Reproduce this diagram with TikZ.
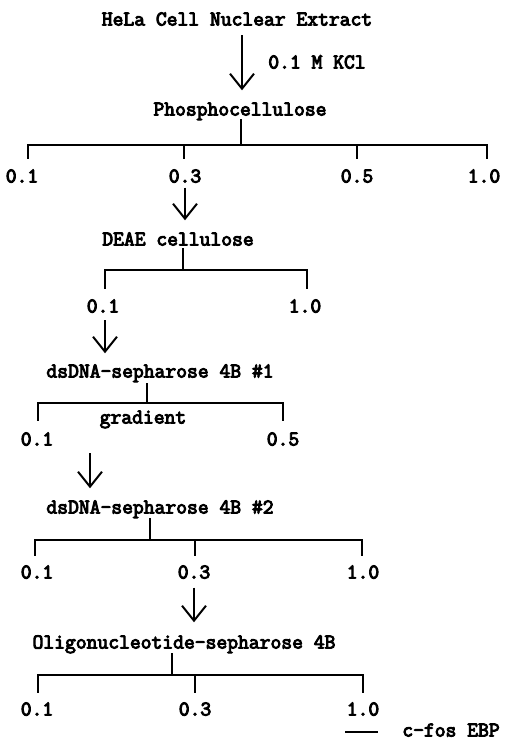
\documentclass[tikz,border=0pt]{standalone}
\usepackage{fontspec}
\newfontfamily\typewr{Latin Modern Mono}[FakeBold=4.5]
\usetikzlibrary{arrows.meta}
\begin{document}
\begin{tikzpicture}[x=1pt,y=-1pt,
  lbl/.style={inner sep=0pt,text height=11pt,text depth=0pt,
    font=\fontsize{21}{23}\selectfont\typewr},
  br/.style={line width=2.4pt,line cap=rect},
  arr/.style={line width=2pt,-{Straight Barb[length=15pt,width=24pt,line width=2pt]}},
]
\useasboundingbox (0,0) rectangle (505,742);

% ---- HeLa extract onto phosphocellulose
\node[lbl] (hela) at (237,20) {HeLa Cell Nuclear Extract};
\node[lbl] (kcl)  at (317,63) {0.1 M KCl};
\node[lbl] (phos) at (240,110) {Phosphocellulose};
\coordinate (a1) at (242,35);
\draw[arr] (a1) -- (a1 |- phos.north) [shorten >=14pt];

\coordinate (pm) at (241,145);
\draw[br] (pm |- phos.south) ++(0,4) -- (pm);
\draw[br] (28,158) |- (487,145) -- (487,158);
\draw[br] (184,145) -- (184,158);
\draw[br] (357,145) -- (357,158);
\node[lbl] (p1) at (22,177)  {0.1};
\node[lbl] (p3) at (185,177) {0.3};
\node[lbl] (p5) at (357,177) {0.5};
\node[lbl] (p10) at (484,177) {1.0};

% ---- DEAE cellulose
\node[lbl] (deae) at (178,240) {DEAE cellulose};
\draw[arr,shorten <=5pt,shorten >=14pt] (p3.south) -- (p3.south |- deae.north);
\coordinate (dm) at (183,270);
\draw[br] (dm |- deae.south) ++(0,3) -- (dm);
\draw[br] (105,288) |- (307,270) -- (307,288);
\node[lbl] (d1) at (103,307) {0.1};
\node[lbl] (d10) at (305,307) {1.0};

% ---- dsDNA-sepharose 4B #1
\node[lbl] (ds1) at (160,372) {dsDNA-sepharose 4B \#1};
\coordinate (a3) at (105,320);
\draw[arr,shorten >=13pt] (a3) -- (a3 |- ds1.north);
\coordinate (sm1) at (147,403);
\draw[br] (sm1 |- ds1.south) ++(0,6) -- (sm1);
\draw[br] (38,420) |- (283,403) -- (283,420);
\node[lbl] (grad) at (143,418) {gradient};
\node[lbl] (s1) at (37,440)  {0.1};
\node[lbl] (s5) at (283,440) {0.5};

% ---- dsDNA-sepharose 4B #2
\node[lbl] (ds2) at (160,508) {dsDNA-sepharose 4B \#2};
\coordinate (a4) at (90,453);
\draw[arr,shorten >=14pt] (a4) -- (a4 |- ds2.north);
\coordinate (sm2) at (150,540);
\draw[br] (sm2 |- ds2.south) ++(0,5) -- (sm2);
\draw[br] (35,555) |- (362,540) -- (362,555);
\draw[br] (195,540) -- (195,555);
\node[lbl] (t1) at (37,573)  {0.1};
\node[lbl] (t3) at (194,573) {0.3};
\node[lbl] (t10) at (363,573) {1.0};

% ---- Oligonucleotide-sepharose 4B
\node[lbl] (olig) at (184,643) {Oligonucleotide-sepharose 4B};
\draw[arr,shorten <=9pt,shorten >=15pt] (t3.south) -- (t3.south |- olig.north);
\coordinate (om) at (172,675);
\draw[br] (om |- olig.south) ++(0,5) -- (om);
\draw[br] (38,692) |- (363,675) -- (363,692);
\draw[br] (195,675) -- (195,692);
\node[lbl] (o1) at (37,710)  {0.1};
\node[lbl] (o3) at (195,710) {0.3};
\node[lbl] (o10) at (363,710) {1.0};

% ---- legend
\node[lbl] (ebp) at (451,731) {c-fos EBP};
\coordinate (lg) at (345,732);
\draw[line width=1.6pt] (lg) -- (378,732);
\end{tikzpicture}
\end{document}
